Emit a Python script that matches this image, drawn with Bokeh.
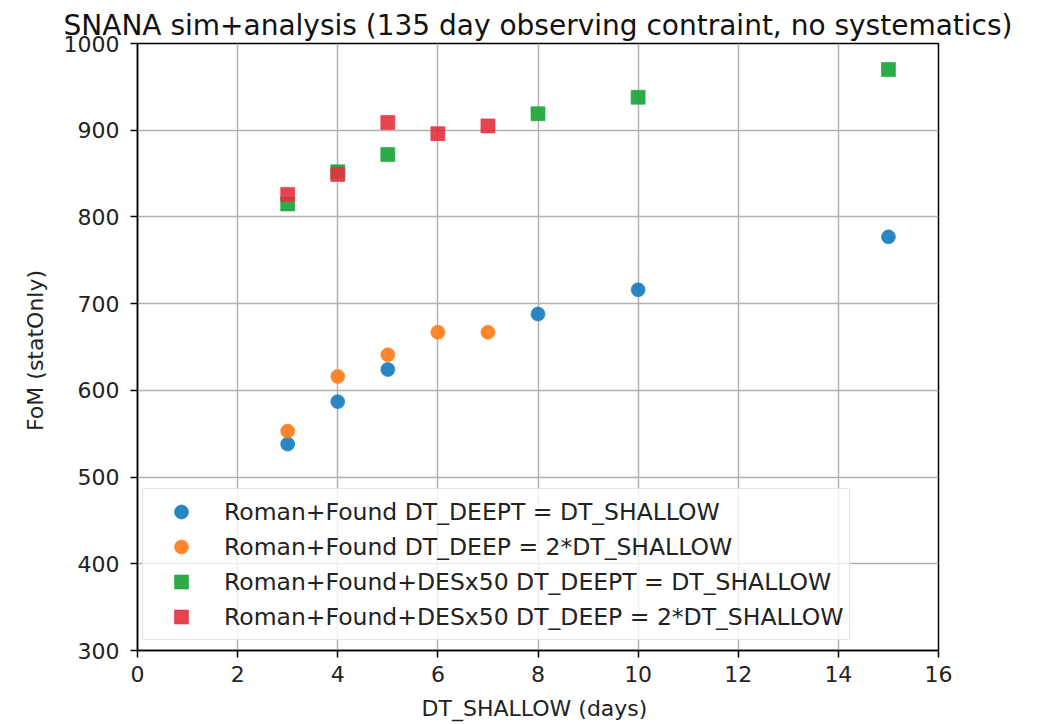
from bokeh.plotting import figure
from bokeh.models import Legend, LegendItem, FixedTicker, Range1d
from bokeh.embed import file_html
from bokeh.resources import INLINE

# data
x_deept = [3, 4, 5, 8, 10, 15]
fom_rf_deept = [538, 587, 624, 688, 716, 777]
x_deep2 = [3, 4, 5, 6, 7]
fom_rf_deep2 = [553, 616, 641, 667, 667]
fom_rfd_deept = [815, 852, 872, 919, 938, 970]
fom_rfd_deep2 = [826, 849, 909, 896, 905]

labels = [
    "Roman+Found DT_DEEPT = DT_SHALLOW",
    "Roman+Found DT_DEEP = 2*DT_SHALLOW",
    "Roman+Found+DESx50 DT_DEEPT = DT_SHALLOW",
    "Roman+Found+DESx50 DT_DEEP = 2*DT_SHALLOW",
]
colors = ["#1f7ec0", "#ff8022", "#20a83c", "#e3303e"]

x_ticks = [0, 2, 4, 6, 8, 10, 12, 14, 16]
y_ticks = [300, 400, 500, 600, 700, 800, 900, 1000]

FONT = "DejaVu Sans"

p = figure(width=1041, height=724, output_backend="svg", toolbar_location=None,
           x_range=Range1d(0, 16), y_range=Range1d(300, 1000),
           min_border_left=137, min_border_right=103, min_border_top=43, min_border_bottom=74,
           title="SNANA sim+analysis (135 day observing contraint, no systematics)")

p.title.align = "center"
p.title.text_font = FONT
p.title.text_font_size = "28px"
p.title.text_font_style = "normal"
p.title.text_color = "#111111"
p.title.offset = 0
p.title.standoff = 3

r1 = p.scatter(x_deept, fom_rf_deept, marker="circle", size=14, fill_color=colors[0], line_color=colors[0], fill_alpha=0.95, line_alpha=0.6)
r2 = p.scatter(x_deep2, fom_rf_deep2, marker="circle", size=14, fill_color=colors[1], line_color=colors[1], fill_alpha=0.95, line_alpha=0.6)
r3 = p.scatter(x_deept, fom_rfd_deept, marker="square", size=14, fill_color=colors[2], line_color=colors[2], fill_alpha=0.95, line_alpha=0.6)
r4 = p.scatter(x_deep2, fom_rfd_deep2, marker="square", size=14, fill_color=colors[3], line_color=colors[3], fill_alpha=0.9, line_alpha=0.6)

for ax in (p.xaxis[0], p.yaxis[0]):
    ax.major_label_text_font = FONT
    ax.major_label_text_font_size = "22px"
    ax.major_label_text_color = "#222222"
    ax.axis_label_text_font = FONT
    ax.axis_label_text_font_size = "22px"
    ax.axis_label_text_font_style = "normal"
    ax.axis_label_text_color = "#222222"
    ax.axis_line_color = "black"
    ax.axis_line_width = 1.5
    ax.major_tick_line_color = "black"
    ax.major_tick_line_width = 1.5
    ax.major_tick_out = 7
    ax.major_tick_in = 0
    ax.minor_tick_line_color = None

p.xaxis.ticker = FixedTicker(ticks=x_ticks)
p.yaxis.ticker = FixedTicker(ticks=y_ticks)
p.xaxis.axis_label = "DT_SHALLOW  (days)"
p.yaxis.axis_label = "FoM  (statOnly)"
p.xaxis.major_label_standoff = 8
p.yaxis.major_label_standoff = 11
p.xaxis.axis_label_standoff = 11
p.yaxis.axis_label_standoff = 13

p.grid.grid_line_color = "#b0b0b0"
p.grid.grid_line_width = 1.5
p.outline_line_color = "black"
p.outline_line_width = 1.5
p.outline_line_alpha = 1.0

legend = Legend(items=[LegendItem(label=l, renderers=[r]) for l, r in zip(labels, [r1, r2, r3, r4])],
                location=(5, 10), margin=0, padding=5,
                glyph_width=66, glyph_height=35, label_standoff=10,
                label_height=24, spacing=0,
                label_text_font=FONT, label_text_font_size="23.5px", label_text_color="#222222",
                border_line_color="#cccccc", border_line_width=1.5,
                background_fill_color="white", background_fill_alpha=0.8)
p.add_layout(legend)

open("out.html", "w").write(file_html(p, INLINE))
